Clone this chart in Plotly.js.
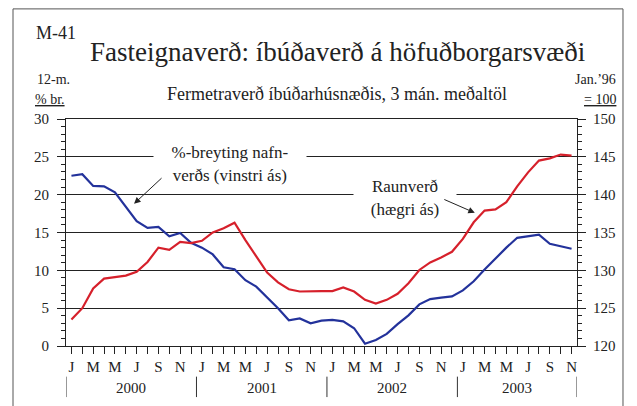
<!DOCTYPE html>
<html>
<head>
<meta charset="utf-8">
<script src="https://cdn.plot.ly/plotly-3.0.1.min.js"></script>
<style>html,body{margin:0;padding:0;background:#fff}#chart{width:637px;height:406px}</style>
</head>
<body>
<div id="chart"></div>
<script>
// ---- data ----
var monthLetters = ["J","","M","","M","","J","","S","","N",""];
var years = ["2000","2001","2002","2003"];
var nMonths = 47; // Jan 2000 .. Nov 2003
var nominalChange = [22.5, 22.7, 21.15, 21.1, 20.3, 18.4, 16.5, 15.6, 15.75, 14.5, 14.95, 13.65,
  13.0, 12.1, 10.4, 10.15, 8.7, 7.85, 6.4, 5.0, 3.4, 3.65, 3.0, 3.35,
  3.45, 3.25, 2.35, 0.3, 0.8, 1.6, 2.9, 4.05, 5.5, 6.2, 6.4, 6.55,
  7.35, 8.55, 10.1, 11.6, 13.0, 14.3, 14.55, 14.7, 13.5, 13.2, 12.85];
var realPrice = [123.5, 125.0, 127.6, 128.9, 129.1, 129.3, 129.8, 131.1, 133.0, 132.7, 133.75, 133.6,
  133.9, 135.0, 135.55, 136.3, 134.0, 131.9, 129.7, 128.4, 127.5, 127.2, 127.25, 127.25,
  127.25, 127.75, 127.2, 126.1, 125.6, 126.1, 126.9, 128.3, 130.05, 131.05, 131.7, 132.45,
  134.15, 136.35, 137.9, 138.05, 139.0, 141.1, 142.95, 144.5, 144.8, 145.3, 145.15];

var idx = [], tickText = [];
for (var i = 0; i < nMonths; i++) { idx.push(i); tickText.push(monthLetters[i % 12]); }

var serif = "Liberation Serif, Times New Roman, serif";
var blue = "#23329b", red = "#d6202b";

var traces = [
  {x: idx, y: nominalChange, type: "scatter", mode: "lines", line: {color: blue, width: 2.2}, yaxis: "y", hoverinfo: "skip"},
  {x: idx, y: realPrice, type: "scatter", mode: "lines", line: {color: red, width: 2.2}, yaxis: "y2", hoverinfo: "skip"}
];

// year separators and labels
var shapes = [], annotations = [];
for (var k = 0; k <= years.length; k++) {
  var xb = Math.min(k * 12, nMonths) - 0.5;
  shapes.push({type: "line", xref: "x", yref: "paper", x0: xb, x1: xb, y0: -0.135, y1: -0.225, line: {color: "#333", width: 1}});
}
for (var k = 0; k < years.length; k++) {
  var s = k * 12, e = Math.min(k * 12 + 12, nMonths);
  annotations.push({text: years[k], xref: "x", yref: "paper", x: (s + e - 1) / 2, y: -0.183, showarrow: false,
    font: {family: serif, size: 15, color: "#222"}, yanchor: "middle"});
}
// outer frame
shapes.push({type: "rect", xref: "paper", yref: "paper", x0: -0.1037, x1: 1.09, y0: 1.485, y1: -0.4, line: {color: "#555", width: 1}});

var txt = {family: serif, size: 17, color: "#222"};
annotations.push(
  {text: "M-41", xref: "paper", yref: "paper", x: -0.062, y: 1.38, xanchor: "left", yanchor: "middle", showarrow: false, font: {family: serif, size: 18, color: "#222"}},
  {text: "Fermetraverð íbúðarhúsnæðis, 3 mán. meðaltöl", xref: "paper", yref: "paper", x: 0.531, y: 1.112, xanchor: "center", yanchor: "middle", showarrow: false, font: {family: serif, size: 18, color: "#222"}},
  {text: "12-m.", xref: "paper", yref: "paper", x: -0.06, y: 1.173, xanchor: "left", yanchor: "middle", showarrow: false, font: {family: serif, size: 14, color: "#222"}},
  {text: "% br.", xref: "paper", yref: "paper", x: -0.064, y: 1.085, xanchor: "left", yanchor: "middle", showarrow: false, font: {family: serif, size: 14, color: "#222", lineposition: "under"}},
  {text: "Jan.’96", xref: "paper", yref: "paper", x: 1.08, y: 1.173, xanchor: "right", yanchor: "middle", showarrow: false, font: {family: serif, size: 14, color: "#222"}},
  {text: "= 100", xref: "paper", yref: "paper", x: 1.08, y: 1.085, xanchor: "right", yanchor: "middle", showarrow: false, font: {family: serif, size: 14, color: "#222", lineposition: "under"}},
  {text: "%-breyting nafn-<br>verðs (vinstri ás)", xref: "x", yref: "y", x: 14.6, y: 24.0, showarrow: false, bgcolor: "#fff", width: 150, height: 44, align: "center", font: txt, yanchor: "middle"},
  {text: "", xref: "x", yref: "y", x: 5.76, y: 18.8, ax: 29, ay: -27, showarrow: true, arrowhead: 2, arrowsize: 1.3, arrowwidth: 1, arrowcolor: "#222"},
  {text: "Raunverð<br>(hægri ás)", xref: "x", yref: "y", x: 30.7, y: 19.5, showarrow: false, bgcolor: "#fff", width: 100, height: 46, align: "center", font: txt, yanchor: "middle"},
  {text: "", xref: "x", yref: "y", x: 37.1, y: 17.6, ax: -32, ay: -14, showarrow: true, arrowhead: 2, arrowsize: 1.3, arrowwidth: 1, arrowcolor: "#222"}
);

var layout = {
  width: 637, height: 406,
  margin: {l: 66, r: 60, t: 119, b: 60},
  paper_bgcolor: "#fff", plot_bgcolor: "#fff",
  showlegend: false,
  font: {family: serif, size: 15, color: "#222"},
  title: {text: "Fasteignaverð: íbúðaverð á höfuðborgarsvæði", x: 0.53, xanchor: "center", y: 0.872, yanchor: "middle", yref: "container", font: {family: serif, size: 27, color: "#222"}},
  xaxis: {range: [-0.5, nMonths - 0.5], tickmode: "array", tickvals: idx, ticktext: tickText, ticks: "outside", ticklen: 7, tickcolor: "#222",
    showline: true, linecolor: "#222", linewidth: 1, mirror: true, showgrid: false, zeroline: false, fixedrange: true,
    tickfont: {family: serif, size: 15, color: "#222"}},
  yaxis: {range: [0, 30], dtick: 5, ticks: "outside", ticklen: 8, tickcolor: "#222", showline: true, linecolor: "#222", linewidth: 1,
    showgrid: true, gridcolor: "#222", gridwidth: 1, zeroline: false, ticklabelstandoff: 5,
    minor: {dtick: 1, ticks: "outside", ticklen: 4, tickcolor: "#222", showgrid: false},
    tickfont: {family: serif, size: 15, color: "#222"}},
  yaxis2: {range: [120, 150], dtick: 5, overlaying: "y", side: "right", ticks: "outside", ticklen: 8, tickcolor: "#222", showline: true, linecolor: "#222", linewidth: 1,
    showgrid: false, zeroline: false, ticklabelstandoff: 4,
    minor: {dtick: 1, ticks: "outside", ticklen: 4, tickcolor: "#222", showgrid: false},
    tickfont: {family: serif, size: 15, color: "#222"}},
  shapes: shapes,
  annotations: annotations
};

Plotly.newPlot("chart", traces, layout, {staticPlot: true, displayModeBar: false});
</script>
</body>
</html>
